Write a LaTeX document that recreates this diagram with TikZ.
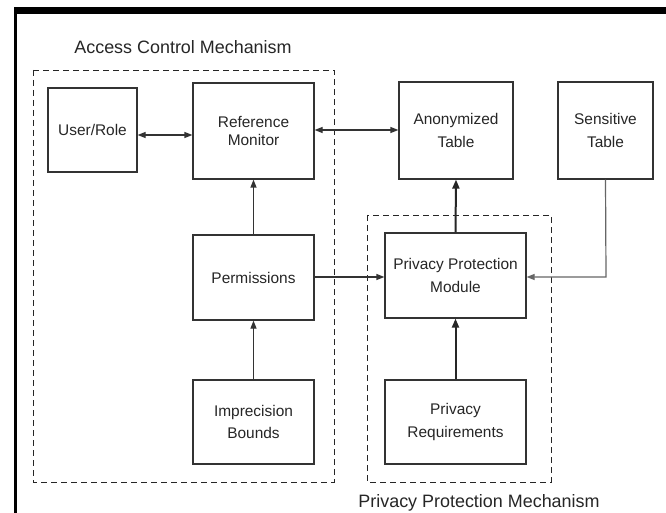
\documentclass[tikz,border=0pt]{standalone}
\usepackage{fontspec}
\setmainfont{Liberation Sans}
\usetikzlibrary{arrows.meta}
\begin{document}
\begin{tikzpicture}[x=1bp,y=-1bp,
  box/.style={draw=black!80,line width=1.2bp,inner sep=0pt,align=center,
    font=\fontsize{15.5}{23}\selectfont,text=black!85},
  grp/.style={draw=black!85,line width=0.9bp,dash pattern=on 6bp off 4bp},
  title/.style={font=\fontsize{18}{21}\selectfont,text=black!85},
  conn/.style={draw=black!80,line width=1.2bp,-{Triangle[length=8bp,width=6bp]}},
  bconn/.style={draw=black!80,line width=1.2bp,{Triangle[length=8bp,width=6bp]}-{Triangle[length=8bp,width=6bp]}},
  tconn/.style={draw=black!85,line width=2bp,-{Triangle[length=9bp,width=7bp]}}]
\useasboundingbox (0,0) rectangle (666,513);
\fill[white] (0,0) rectangle (666,513);
% frame
\fill[black] (14,7) rectangle (666,14);
\fill[black] (14,7) rectangle (17,513);
% groups
\draw[grp] (33,70) rectangle (334,482);
\draw[grp] (367,215) rectangle (551,482);
\node[title] (tac) at (183,47) {Access Control Mechanism};
\node[title] (tpp) at (479,503) {Privacy Protection Mechanism};
% boxes
\node[box,minimum width=89bp,minimum height=84bp] (ur) at (92.5,130) {User/Role};
\node[box,minimum width=121bp,minimum height=96bp,font=\fontsize{15.5}{17.5}\selectfont] (rm) at (253.5,131) {Reference\\Monitor};
\node[box,minimum width=121bp,minimum height=85bp] (pm) at (253.5,277.5) {Permissions};
\node[box,minimum width=121bp,minimum height=84bp] (ib) at (253.5,422) {Imprecision\\Bounds};
\node[box,minimum width=114bp,minimum height=97bp] (at) at (456,130.5) {Anonymized\\Table};
\node[box,minimum width=95bp,minimum height=97bp] (st) at (605.5,130.5) {Sensitive\\Table};
\node[box,minimum width=141bp,minimum height=85bp] (ppm) at (455.5,275.5) {Privacy Protection\\Module};
\node[box,minimum width=141bp,minimum height=84bp] (pr) at (455.5,422) {Privacy\\Requirements};
% connectors
\draw[bconn] (ur.east |- 0,135) -- (rm.west |- 0,135);
\draw[bconn] (rm.east |- 0,130) -- (at.west |- 0,130);
\draw[conn] (pm.north) -- (rm.south);
\draw[conn] (ib.north) -- (pm.south);
\draw[conn] (pm.east |- 0,277) -- (ppm.west |- 0,277);
\draw[tconn] (ppm.north) -- (at.south);
\draw[tconn] (pr.north) -- (ppm.south);
\draw[conn,draw=black!60] (st.south) -- (606,277) -- (ppm.east |- 0,277);
\end{tikzpicture}
\end{document}
